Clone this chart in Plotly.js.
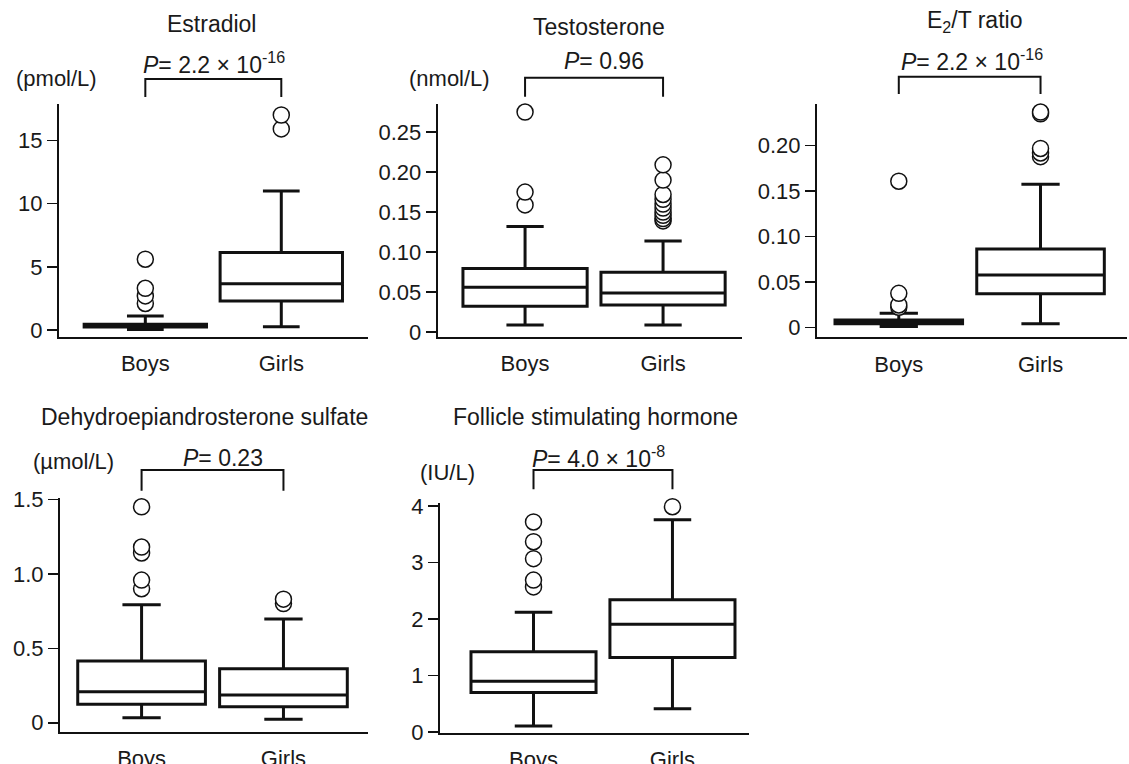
<!DOCTYPE html>
<html><head><meta charset="utf-8">
<script src="https://cdn.plot.ly/plotly-3.0.1.min.js"></script>
<style>html,body{margin:0;padding:0;background:#fff;} #chart{width:1129px;height:764px;}</style>
</head><body><div id="chart"></div>
<script>
// ---------- data ----------
const groups = ['Boys', 'Girls'];

// Estradiol (pmol/L)
const e2_q1 = [0.24, 2.29];
const e2_median = [0.35, 3.66];
const e2_q3 = [0.46, 6.14];
const e2_lower = [0.05, 0.26];
const e2_upper = [1.12, 11.0];
const e2_outBoys = [2.1, 2.7, 3.3, 5.6];
const e2_outGirls = [15.9, 17.0];
const e2_ticks = [0, 5, 10, 15];
const e2_tickText = ['0', '5', '10', '15'];

// Testosterone (nmol/L)
const t_q1 = [0.0325, 0.034];
const t_median = [0.056, 0.049];
const t_q3 = [0.0796, 0.075];
const t_lower = [0.009, 0.009];
const t_upper = [0.132, 0.114];
const t_outBoys = [0.159, 0.175, 0.275];
const t_outGirls = [0.139, 0.142, 0.146, 0.150, 0.155, 0.160, 0.166, 0.172, 0.190, 0.209];
const t_ticks = [0, 0.05, 0.10, 0.15, 0.20, 0.25];
const t_tickText = ['0', '0.05', '0.10', '0.15', '0.20', '0.25'];

// E2/T ratio
const r_q1 = [0.0045, 0.0374];
const r_median = [0.006, 0.058];
const r_q3 = [0.0085, 0.0865];
const r_lower = [0.0013, 0.0044];
const r_upper = [0.0158, 0.1576];
const r_outBoys = [0.0224, 0.025, 0.0378, 0.161];
const r_outGirls = [0.188, 0.192, 0.197, 0.235, 0.237];
const r_ticks = [0, 0.05, 0.10, 0.15, 0.20];
const r_tickText = ['0', '0.05', '0.10', '0.15', '0.20'];

// DHEA-S (µmol/L)
const d_q1 = [0.124, 0.107];
const d_median = [0.208, 0.186];
const d_q3 = [0.414, 0.363];
const d_lower = [0.034, 0.023];
const d_upper = [0.793, 0.697];
const d_outBoys = [0.90, 0.958, 1.14, 1.18, 1.45];
const d_outGirls = [0.80, 0.83];
const d_ticks = [0, 0.5, 1.0, 1.5];
const d_tickText = ['0', '0.5', '1.0', '1.5'];

// FSH (IU/L)
const f_q1 = [0.70, 1.32];
const f_median = [0.90, 1.91];
const f_q3 = [1.42, 2.34];
const f_lower = [0.106, 0.41];
const f_upper = [2.12, 3.76];
const f_outBoys = [2.57, 2.69, 3.07, 3.37, 3.72];
const f_outGirls = [3.99];
const f_ticks = [0, 1, 2, 3, 4];
const f_tickText = ['0', '1', '2', '3', '4'];

const titles = ['Estradiol', 'Testosterone', 'E<sub>2</sub>/T ratio', 'Dehydroepiandrosterone sulfate', 'Follicle stimulating hormone'];
const units = ['(pmol/L)', '(nmol/L)', '', '(µmol/L)', '(IU/L)'];
const pValues = ['<i>P</i>= 2.2 × 10<sup>-16</sup>', '<i>P</i>= 0.96', '<i>P</i>= 2.2 × 10<sup>-16</sup>', '<i>P</i>= 0.23', '<i>P</i>= 4.0 × 10<sup>-8</sup>'];

// ---------- layout geometry (pixels) ----------
const W = 1129, H = 764;
const FONT = 'Liberation Sans, Arial, Helvetica, sans-serif';
const TXT = '#1a1a1a';
const panels = [
  {q1: e2_q1, med: e2_median, q3: e2_q3, lo: e2_lower, hi: e2_upper, ob: e2_outBoys, og: e2_outGirls, tv: e2_ticks, tt: e2_tickText,
   box: [59, 368.3, 104, 337], xr: [-0.635, 1.64], yr: [-0.55, 17.87],
   title: [211.7, 24], unit: [56, 78], p: [214, 63], br: [79, 97]},
  {q1: t_q1, med: t_median, q3: t_q3, lo: t_lower, hi: t_upper, ob: t_outBoys, og: t_outGirls, tv: t_ticks, tt: t_tickText,
   box: [437.7, 742, 104, 337], xr: [-0.633, 1.572], yr: [-0.006, 0.285],
   title: [599, 27], unit: [449, 78], p: [604, 61.5], br: [77.7, 96.7]},
  {q1: r_q1, med: r_median, q3: r_q3, lo: r_lower, hi: r_upper, ob: r_outBoys, og: r_outGirls, tv: r_ticks, tt: r_tickText,
   box: [817, 1127, 104.3, 337.3], xr: [-0.577, 1.61], yr: [-0.0105, 0.2455],
   title: [974, 22], unit: null, p: [972, 60], br: [76.7, 94]},
  {q1: d_q1, med: d_median, q3: d_q3, lo: d_lower, hi: d_upper, ob: d_outBoys, og: d_outGirls, tv: d_ticks, tt: d_tickText,
   box: [60, 368.3, 498.3, 731.7], xr: [-0.575, 1.598], yr: [-0.06, 1.507],
   title: [204.5, 416.5], unit: [73.5, 461.5], p: [222.5, 457.5], br: [470, 490.7]},
  {q1: f_q1, med: f_median, q3: f_q3, lo: f_lower, hi: f_upper, ob: f_outBoys, og: f_outGirls, tv: f_ticks, tt: f_tickText,
   box: [440, 749.3, 503.3, 732.7], xr: [-0.673, 1.553], yr: [-0.012, 4.05],
   title: [595, 416.5], unit: [447.5, 472], p: [598, 457], br: [470, 489.3]}
];

const px = x => x / W;
const py = y => 1 - y / H;

const data = [];
const layout = {
  width: W, height: H,
  margin: {l: 0, r: 0, t: 0, b: 0},
  paper_bgcolor: '#fff', plot_bgcolor: 'rgba(0,0,0,0)',
  showlegend: false,
  font: {family: FONT, size: 22, color: TXT},
  annotations: [], shapes: []
};

panels.forEach((p, i) => {
  const n = i === 0 ? '' : String(i + 1);
  const xa = 'x' + n, ya = 'y' + n;
  data.push({
    type: 'box', x: [0, 1], q1: p.q1, median: p.med, q3: p.q3,
    lowerfence: p.lo, upperfence: p.hi,
    width: 0.9, whiskerwidth: 0.3, boxpoints: false,
    line: {color: '#111', width: 3}, fillcolor: 'white',
    xaxis: xa, yaxis: ya, hoverinfo: 'skip'
  });
  const ox = p.ob.map(() => 0).concat(p.og.map(() => 1));
  const oy = p.ob.concat(p.og);
  data.push({
    type: 'scatter', mode: 'markers', x: ox, y: oy, cliponaxis: false,
    marker: {symbol: 'circle', size: 16, color: 'white', line: {color: '#111', width: 1.5}},
    xaxis: xa, yaxis: ya, hoverinfo: 'skip'
  });
  layout['xaxis' + n] = {
    domain: [px(p.box[0]), px(p.box[1])], range: p.xr, anchor: ya,
    showline: true, linecolor: '#111', linewidth: 2,
    tickvals: [0, 1], ticktext: groups, ticks: 'outside', ticklen: 6, tickcolor: 'rgba(0,0,0,0)',
    showgrid: false, zeroline: false, fixedrange: true,
    tickfont: {family: FONT, size: 22, color: TXT}
  };
  layout['yaxis' + n] = {
    domain: [py(p.box[3]), py(p.box[2])], range: p.yr, anchor: xa,
    showline: true, linecolor: '#111', linewidth: 2,
    tickvals: p.tv, ticktext: p.tt, ticks: 'outside', ticklen: 10, tickwidth: 1.5, tickcolor: '#111',
    showgrid: false, zeroline: false, fixedrange: true,
    tickfont: {family: FONT, size: 22, color: TXT}
  };
  layout.annotations.push({xref: 'paper', yref: 'paper', x: px(p.title[0]), y: py(p.title[1]),
    xanchor: 'center', yanchor: 'middle', text: titles[i], showarrow: false, font: {size: 23}});
  if (p.unit) layout.annotations.push({xref: 'paper', yref: 'paper', x: px(p.unit[0]), y: py(p.unit[1]),
    xanchor: 'center', yanchor: 'middle', text: units[i], showarrow: false, font: {size: 22}});
  layout.annotations.push({xref: 'paper', yref: 'paper', x: px(p.p[0]), y: py(p.p[1]),
    xanchor: 'center', yanchor: 'middle', text: pValues[i], showarrow: false, font: {size: 23}});
  const yt = py(p.br[0]), yb = py(p.br[1]);
  layout.shapes.push({type: 'path', xref: xa, yref: 'paper',
    path: `M 0,${yb} L 0,${yt} L 1,${yt} L 1,${yb}`,
    line: {color: '#111', width: 2}});
});

Plotly.newPlot('chart', data, layout, {staticPlot: true, displayModeBar: false});
</script>
</body></html>
